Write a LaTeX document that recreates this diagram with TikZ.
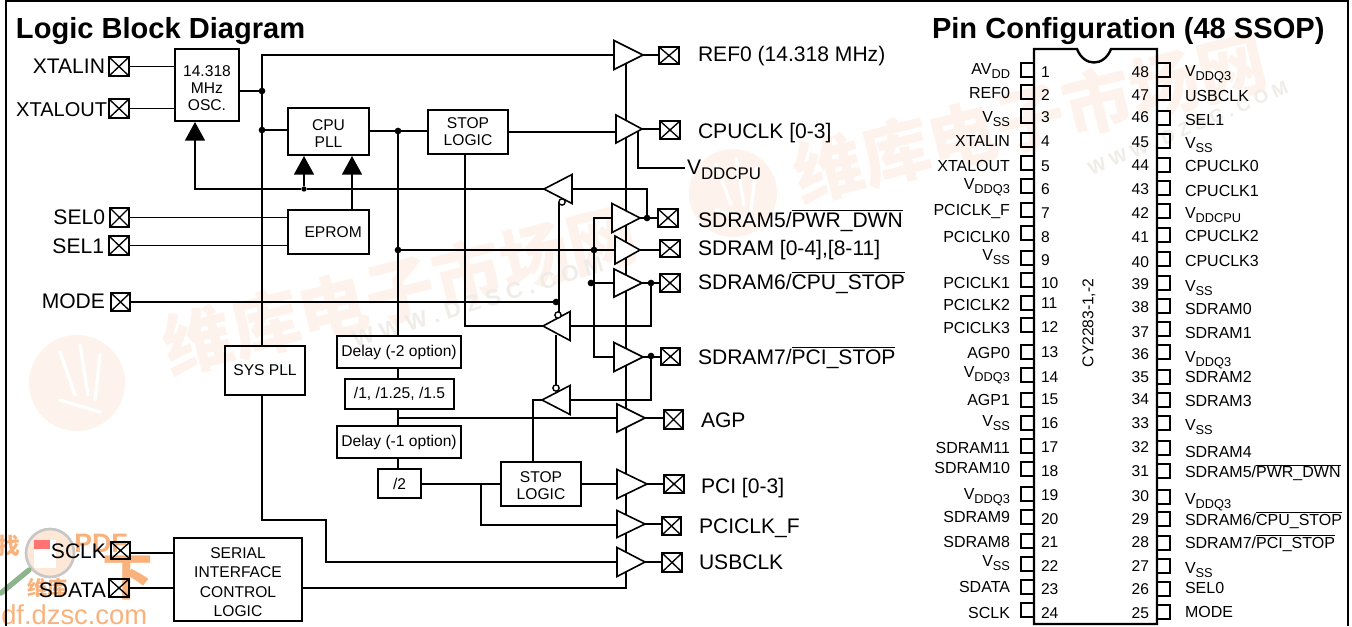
\documentclass[tikz,border=0pt]{standalone}
\usepackage{fontspec}
\setmainfont{Liberation Sans}
\newfontfamily\cjk{Noto Sans CJK SC}
\usetikzlibrary{arrows.meta,shapes.geometric,calc}
\definecolor{wm}{HTML}{FDF3EC}
\definecolor{wmg}{HTML}{F0ECE8}
\definecolor{wmo}{HTML}{F9B27C}
\newcommand\ovl[1]{\ensuremath{\overline{\hbox{#1}}}}
\newcommand\subt[1]{\raisebox{-.25em}{\scalebox{.8}{#1}}}
\newcommand\bx[7][blk]{\node[#1,minimum width={(#5-#3)*0.75pt},minimum height={(#6-#4)*0.75pt}] (#2) at ({(#3+#5)/2},{(#4+#6)/2}) {#7};}
\newcommand\pad[5]{\bx[padbox]{#1}{#2}{#3}{#4}{#5}{}}
% name, x of base, y of top, y of bottom, x of apex, y of apex
\newcommand\buf[6]{\node[bufr,minimum height={(#5-#2)*0.75pt},minimum width={(#4-#3)*0.75pt},anchor=west] (#1) at (#2,#6) {};}
\newcommand\bufl[6]{\node[bufs,minimum height={(#2-#5)*0.75pt},minimum width={(#4-#3)*0.75pt},anchor=east] (#1) at (#2,#6) {};}
\tikzset{
 x=0.75pt,y=-0.75pt,
 wire/.style={line width=1.3pt,line join=miter},
 wtip/.style={wire,-{Triangle[length=14pt,width=15pt]}},
 blk/.style={draw,line width=1.3pt,inner sep=0pt,outer sep=0pt,align=center,font=\fontsize{11.7pt}{12.6pt}\selectfont},
 blkw/.style={blk,font=\fontsize{11.7pt}{14.6pt}\selectfont},
 padbox/.style={draw,line width=1.3pt,inner sep=0pt,outer sep=0pt,
   path picture={\draw[line width=1pt] (path picture bounding box.north west)--(path picture bounding box.south east)
   (path picture bounding box.south west)--(path picture bounding box.north east);}},
 trib/.style={draw,fill=white,line width=1.2pt,inner sep=0pt,outer sep=0pt,shape=isosceles triangle,isosceles triangle stretches,isosceles triangle apex angle=60},
 bufr/.style={trib},
 bufs/.style={trib,shape border rotate=180},
 jdot/.style={circle,fill=black,inner sep=0pt,outer sep=0pt,minimum size=5pt},
 jsmall/.style={jdot,minimum size=4pt},
 bub/.style={circle,draw,fill=white,line width=.9pt,inner sep=0pt,outer sep=0pt,minimum size=4.6pt},
 mlab/.style={inner sep=0pt,outer sep=0pt,anchor=base west,font=\fontsize{15.8pt}{17pt}\selectfont},
 mlabr/.style={mlab,anchor=base east},
 ttl/.style={inner sep=0pt,outer sep=0pt,anchor=base west,font=\fontsize{21.8pt}{24pt}\selectfont\bfseries},
 plab/.style={inner sep=0pt,outer sep=0pt,anchor=base west,font=\fontsize{12pt}{13pt}\selectfont},
 plabr/.style={plab,anchor=base east},
 pnum/.style={plab,font=\fontsize{11.7pt}{13pt}\selectfont},
 pnumr/.style={pnum,anchor=base east},
 wmtxt/.style={text=wm,inner sep=0pt,font=\fontsize{52pt}{54pt}\cjk\bfseries\selectfont,rotate=14},
 wmurl/.style={text=wmg,inner sep=0pt,font=\fontsize{17pt}{18pt}\bfseries\selectfont,rotate=17},
 wmlogo/.style={text=wmo,inner sep=0pt},
 stub/.style={line width=1.5pt},
 swirl/.style={white,line width=2.5pt,line cap=round},
}
\begin{document}
\begin{tikzpicture}
\useasboundingbox (0,0) rectangle (1352,626);
\fill[white] (0,0) rectangle (1352,626);
% ---- watermark
\fill[wm] (77,383) circle (48);
\draw[swirl] (60,352) -- (75,395) (80,345) -- (88,395) (100,355) -- (95,400) (60,400) -- (100,412);
\fill[wm] (733,193) circle (44);
\draw[swirl] (716,164) -- (731,205) (736,158) -- (744,205) (756,168) -- (751,210) (716,210) -- (756,222);
\node[wmtxt] (wm1) at (400,290) {维库电子市场网};
\node[wmtxt] (wm2) at (1030,118) {维库电子市场网};
\node[wmurl] (wu1) at (478,302) {W W W . D Z S C . C O M};
\node[wmurl,rotate=6,font=\fontsize{14pt}{15pt}\bfseries\selectfont] (wu2) at (1188,128) {W W W . D Z S C . C O M};
\fill[wmo!30] (50,553) circle (24);
\draw[line width=2pt,black!22] (50,553) circle (24);
\fill[white] (34,540) rectangle (56,568);
\fill[red!55] (34,540) rectangle (50,549);
\draw[line width=4pt,green!35!black!45,line cap=round] (29,570) -- (1,593);
\node[wmlogo,font=\fontsize{17pt}{18pt}\cjk\bfseries\selectfont] (wl1) at (9,546) {找};
\node[wmlogo,font=\fontsize{20pt}{21pt}\bfseries\selectfont] (wl2) at (101,543) {PDF};
\node[wmlogo,font=\fontsize{38pt}{40pt}\cjk\bfseries\selectfont] (wl3) at (128,578) {下};
\node[wmlogo,font=\fontsize{15pt}{16pt}\cjk\bfseries\selectfont] (wl4) at (47,588) {维库};
\node[wmlogo,anchor=base west,font=\fontsize{20.5pt}{22pt}\selectfont] (wl5) at (1,624) {df.dzsc.com};
% ---- frame
\draw[line width=1.6pt] (6,626) -- (6,1) -- (1348,1) -- (1348,626);
% ---- titles
\node[ttl] (t1) at (16,38) {Logic Block Diagram};
\node[ttl] (t2) at (932,38) {Pin Configuration (48 SSOP)};
% ---- left pads
\pad{xin}{109}{57}{129}{76}
\pad{xout}{109}{99}{129}{118}
\pad{sel0}{110}{208}{129}{227}
\pad{sel1}{109}{236}{129}{255}
\pad{mode}{111}{293}{130}{311}
\pad{sclk}{111}{542}{130}{559}
\pad{sdata}{109}{579}{129}{597}
\node[mlabr] (lxin) at (105,73) {XTALIN};
\node[mlabr,font=\fontsize{15pt}{17pt}\selectfont] (lxout) at (107,116) {XTALOUT};
\node[mlabr] (lsel0) at (105,224) {SEL0};
\node[mlabr] (lsel1) at (104,253) {SEL1};
\node[mlabr] (lmode) at (105,308) {MODE};
\node[mlabr] (lsclk) at (106,558) {SCLK};
\node[mlabr] (lsdata) at (106,597) {SDATA};
% ---- blocks
\bx{osc}{175}{49}{239}{121}{\rule{0pt}{13pt}14.318\\MHz\\OSC.}
\bx{cpu}{288}{108}{369}{155}{\rule{0pt}{11pt}CPU\\PLL}
\bx{eprom}{288}{210}{369}{254}{\hspace*{7pt}EPROM}
\bx{stopa}{428}{110}{508}{154}{STOP\\LOGIC}
\bx{syspll}{225}{346}{305}{395}{SYS PLL}
\bx{dlytwo}{337}{336}{461}{368}{Delay (-2 option)}
\bx{divs}{345}{379}{454}{409}{/1, /1.25, /1.5}
\bx{dlyone}{337}{426}{461}{458}{Delay (-1 option)}
\bx{half}{378}{469}{421}{498}{/2}
\bx{stopb}{501}{462}{581}{506}{\rule{0pt}{10.5pt}STOP\\LOGIC}
\bx[blkw]{serial}{174}{538}{302}{621}{\rule{0pt}{12pt}SERIAL\\INTERFACE\\CONTROL\\LOGIC}
% ---- junctions and free ends
\node[jdot] (d1) at (262,91) {};
\node[jdot] (d2) at (262,130) {};
\node[jdot] (d3) at (398,131) {};
\node[jsmall] (d4) at (304,189) {};
\node[jdot] (d5) at (398,250) {};
\node[jdot] (d6) at (647,218) {};
\node[jdot] (d7) at (594,250) {};
\node[jdot] (d8) at (591,283) {};
\node[jdot] (d9) at (651,283) {};
\node[jdot] (d10) at (651,356) {};
\node[jdot] (d11) at (556,302) {};
\node[bub] (b1) at (562,202) {};
\node[bub] (b2) at (558,315) {};
\node[bub] (b3) at (556,388) {};
\coordinate (topc) at (262,55);
\coordinate (vtop) at (626,62);
\coordinate (sout) at (302,588);
\coordinate (oscin) at (195,122);
\coordinate (cpuina) at (304,156);
\coordinate (cpuinb) at (352,156);
\coordinate (eout) at (352,210);
\coordinate (vsa) at (638,132);
\coordinate (vsb) at (685,168);
\coordinate (sbot) at (465,154);
\coordinate (stopt) at (533,462);
\coordinate (bltwob) at (556,335);
\coordinate (agpc) at (398,418);
\coordinate (jf) at (481,484);
\coordinate (sa) at (326,520);
\coordinate (halfo) at (421,484);
\coordinate (serin) at (174,553);
\coordinate (serid) at (174,588);
% ---- connectors
\draw[wire] (xin.east) -- (xin.east -| osc.west);
\draw[wire] (xout.east) -- (xout.east -| osc.west);
\draw[wire] (sel0.east) -- (eprom.west |- sel0.east);
\draw[wire] (sel1.east) -- (eprom.west |- sel1.east);
\draw[wire] (mode.east) -- (d11);
\draw[wire] (sclk.east |- serin) -- (serin);
\draw[wire] (sdata.east |- serid) -- (serid);
\draw[wire] (osc.east |- d1) -- (d1);
\draw[wire] (syspll.north -| d1) -- (topc) -- (topc -| 614,0);
\draw[wire] (d2) -- (d2 -| cpu.west);
\draw[wire] (cpu.east |- d3) -- (d3) -- (stopa.west |- d3);
\draw[wire] (stopa.east) -- (616,132 |- stopa.east);
\draw[wire] (d3) -- (d3 |- dlytwo.north);
\draw[wire] (d3 |- dlytwo.south) -- (d3 |- divs.north);
\draw[wire] (d3 |- divs.south) -- (d3 |- dlyone.north);
\draw[wire] (d3 |- dlyone.south) -- (d3 |- half.north);
\draw[wire] (agpc) -- (617,418);
\draw[wire] (d5) -- (615,250);
\draw[wire] (halfo) -- (halfo -| stopb.west);
\draw[wire] (stopb.east) -- (617,484 |- stopb.east);
\draw[wire] (jf) |- (617,525);
\draw[wire] (sout) -| (vtop);
\draw[wire] (syspll.south -| d1) |- (sa) |- (617,562);
\draw[wire] (vsa) |- (vsb);
\draw[wtip] (d6) |- (572,189) -- (d4) -| (oscin);
\draw[wtip] (d4) -- (cpuina);
\draw[wtip] (eout) -- (cpuinb);
\draw[wire] (612,218) -| (d7);
\draw[wire] (d7) |- (614,357);
\draw[wire] (d8) -- (614,283);
\draw[wire] (d9) |- (570,326);
\draw[wire] (d10) |- (570,400);
\draw[wire] (543,326) -| (sbot);
\draw[wire] (542,400) -| (stopt);
\draw[wire] (b1.west) -- (b1.west |- b2.north);
\draw[wire] (bltwob) -- (b3.north);
% ---- buffers
\buf{ref}{614}{41}{70}{643}{55}
\buf{cbuf}{616}{115}{143}{642}{129}
\buf{sfive}{612}{204}{233}{640}{218}
\buf{sdr}{615}{235}{263}{640}{250}
\buf{ssix}{614}{269}{297}{642}{283}
\buf{sseven}{614}{342}{371}{643}{357}
\buf{agp}{617}{404}{432}{645}{418}
\buf{pci}{617}{470}{499}{647}{484}
\buf{pcif}{617}{511}{538}{645}{524}
\buf{usb}{617}{547}{576}{645}{562}
\bufl{bla}{572}{175}{204}{544}{189}
\bufl{blb}{570}{312}{341}{543}{326}
\bufl{blc}{570}{386}{415}{542}{400}
\node[bub] at (b1) {};
\node[bub] at (b2) {};
\node[bub] at (b3) {};
% ---- output pads
\pad{prf}{659}{47}{679}{64}
\pad{pcp}{660}{121}{680}{139}
\pad{pfv}{658}{209}{678}{227}
\pad{psd}{660}{240}{680}{257}
\pad{psx}{660}{274}{680}{292}
\pad{psv}{661}{348}{680}{365}
\pad{pag}{664}{410}{683}{429}
\pad{ppc}{664}{475}{684}{493}
\pad{ppf}{662}{517}{681}{535}
\pad{pus}{662}{553}{682}{572}
\draw[wire] (ref.east) -- (prf.west |- ref.east);
\draw[wire] (cbuf.east) -- (pcp.west |- cbuf.east);
\draw[wire] (sfive.east) -- (pfv.west |- sfive.east);
\draw[wire] (sdr.east) -- (psd.west |- sdr.east);
\draw[wire] (ssix.east) -- (psx.west |- ssix.east);
\draw[wire] (sseven.east) -- (psv.west |- sseven.east);
\draw[wire] (agp.east) -- (pag.west |- agp.east);
\draw[wire] (pci.east) -- (ppc.west |- pci.east);
\draw[wire] (pcif.east) -- (ppf.west |- pcif.east);
\draw[wire] (usb.east) -- (pus.west |- usb.east);
% ---- output labels
\node[mlab] (lrf) at (698,61) {REF0 (14.318 MHz)};
\node[mlab] (lcp) at (698,138) {CPUCLK [0-3]};
\node[mlab] (lvd) at (687,174) {V\subt{DDCPU}};
\node[mlab] (lfv) at (698,227) {SDRAM5/\ovl{PWR\_DWN}};
\node[mlab] (lsd) at (698,255) {SDRAM [0-4],[8-11]};
\node[mlab] (lsx) at (698,289) {SDRAM6/\ovl{CPU\_STOP}};
\node[mlab] (lsv) at (698,364) {SDRAM7/\ovl{PCI\_STOP}};
\node[mlab] (lag) at (701,427) {AGP};
\node[mlab] (lpc) at (701,493) {PCI [0-3]};
\node[mlab] (lpf) at (699,533) {PCICLK\_F};
\node[mlab] (lus) at (699,569) {USBCLK};
% ---- chip
\draw[line width=1.8pt] (1034,49) -- (1077,49) .. controls (1084,67) and (1104,67) .. (1111,49) -- (1157,49) -- (1157,624) -- (1034,624) -- cycle;
\node[plab,rotate=90,anchor=center,font=\fontsize{11.7pt}{13pt}\selectfont] (chipn) at (1089,323) {CY2283-1,-2};
\foreach \n/\p/\t/\b/\s in {
 1/70/72/69/{AV\subt{DD}},2/92/95/92.7/{REF0},3/116/117/117/{V\subt{SS}},4/140/141/141/{XTALIN},
 5/163/166/166/{XTALOUT},6/186/189/184/{V\subt{DDQ3}},7/210/213/210/{PCICLK\_F},8/233/237/237/{PCICLK0},
 9/258/260/255/{V\subt{SS}},10/280/283/283/{PCICLK1},11/303/303/305/{PCICLK2},12/325/327/328/{PCICLK3},
 13/352/352/353/{AGP0},14/375/377/372/{V\subt{DDQ3}},15/400/399/400/{AGP1},16/423/423/421/{V\subt{SS}},
 17/446/447/448/{SDRAM11},18/469/471/468/{SDRAM10},19/494/495/494/{V\subt{DDQ3}},20/517/519/517/{SDRAM9},
 21/541/542/542/{SDRAM8},22/564/566/561/{V\subt{SS}},23/587/589/587/{SDATA},24/610/613/613/{SCLK}}{
 \draw[stub] (1034,\p-7) -- (1021,\p-7) -- (1021,\p+7) -- (1034,\p+7);
 \node[pnum] (numl\n) at (1041,\t+5.6) {\n};
 \node[plabr] (labl\n) at (1010,\b+5.7) {\s};
}
\foreach \n/\p/\t/\b/\s in {
 48/70/72/71/{V\subt{DDQ3}},47/93/95/96/{USBCLK},46/118/117/120/{SEL1},45/141/142/143/{V\subt{SS}},
 44/165/165/166/{CPUCLK0},43/188/189/191/{CPUCLK1},42/211/213/213/{V\subt{DDCPU}},41/235/237/236/{CPUCLK2},
 40/259/262/261/{CPUCLK3},39/283/284/286/{V\subt{SS}},38/306/307/309/{SDRAM0},37/329/332/333/{SDRAM1},
 36/352/354/357/{V\subt{DDQ3}},35/377/377/377/{SDRAM2},34/400/399/401/{SDRAM3},33/423/423/425/{V\subt{SS}},
 32/448/447/452/{SDRAM4},31/471/471/472/{SDRAM5/\ovl{PWR\_DWN}},30/497/496/499/{V\subt{DDQ3}},29/519/519/520/{SDRAM6/\ovl{CPU\_STOP}},
 28/543/542/543/{SDRAM7/\ovl{PCI\_STOP}},27/566/566/568/{V\subt{SS}},26/589/589/588/{SEL0},25/612/613/612/{MODE}}{
 \draw[stub] (1157,\p-7) -- (1170,\p-7) -- (1170,\p+7) -- (1157,\p+7);
 \node[pnumr] (numr\n) at (1149,\t+5.6) {\n};
 \node[plab] (labr\n) at (1185,\b+5.7) {\s};
}
\end{tikzpicture}
\end{document}
